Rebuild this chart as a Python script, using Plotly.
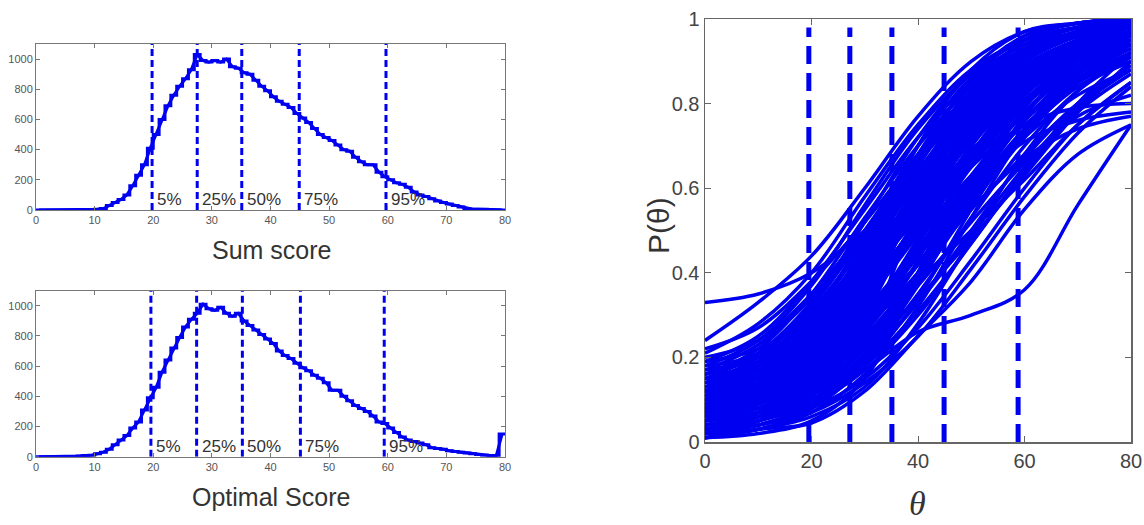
import plotly.graph_objects as go

# ---------------- data ----------------
BIN_EDGES = list(range(0, 81))
SUM_COUNTS = [0,0,0,0,0,0,0,0,0,0, 5,10,30,50,70,100,160,230,300,410,
              500,600,690,760,820,870,930,1030,990,980, 990,980,1000,950,940,910,900,860,820,790,
              750,720,700,680,640,610,580,540,500,480, 460,430,400,390,350,320,300,300,250,220,
              200,180,170,150,120,100,90,75,60,50, 40,30,20,10,5,5,5,3,2,0]
OPT_COUNTS = [0,0,0,0,0,0,2,5,8,10, 20,30,50,80,110,140,190,230,310,390,
              460,560,640,720,790,860,910,950,1010,980, 970,990,950,930,950,900,870,840,810,780,
              750,700,670,650,620,590,570,540,520,490, 440,440,400,370,340,320,300,270,230,220,
              190,160,130,110,100,90,80,60,55,50, 40,35,30,25,20,15,10,8,5,150]
SUM_PCT = [19.8, 27.5, 35.1, 44.9, 59.7]
OPT_PCT = [19.6, 27.4, 35.2, 45.1, 59.4]
THETA_PCT = [19.5, 27.2, 35.1, 44.9, 58.8]
PCT_LABELS = ["5%", "25%", "50%", "75%", "95%"]

THETA = [0, 10, 20, 30, 40, 50, 60, 70, 80]
ICC = [
    [0.24,0.33,0.44,0.60,0.77,0.90,0.97,0.99,1.00],
    [0.33,0.35,0.40,0.50,0.62,0.75,0.86,0.93,0.97],
    [0.22,0.27,0.38,0.52,0.68,0.82,0.92,0.97,0.99],
    [0.20,0.24,0.35,0.50,0.66,0.80,0.90,0.96,0.99],
    [0.19,0.22,0.30,0.45,0.62,0.78,0.89,0.95,0.98],
    [0.17,0.20,0.28,0.42,0.58,0.74,0.86,0.94,0.98],
    [0.15,0.19,0.27,0.40,0.56,0.72,0.85,0.93,0.97],
    [0.14,0.17,0.25,0.38,0.55,0.72,0.85,0.93,0.97],
    [0.12,0.16,0.24,0.36,0.52,0.68,0.82,0.91,0.96],
    [0.10,0.14,0.22,0.35,0.52,0.70,0.84,0.93,0.97],
    [0.09,0.12,0.20,0.33,0.50,0.68,0.83,0.92,0.96],
    [0.08,0.11,0.18,0.30,0.47,0.65,0.80,0.90,0.95],
    [0.07,0.10,0.17,0.29,0.45,0.62,0.78,0.89,0.95],
    [0.06,0.09,0.15,0.26,0.42,0.60,0.76,0.88,0.94],
    [0.05,0.08,0.14,0.25,0.40,0.58,0.74,0.86,0.93],
    [0.05,0.07,0.12,0.22,0.38,0.56,0.72,0.85,0.92],
    [0.04,0.06,0.11,0.20,0.35,0.53,0.70,0.83,0.91],
    [0.03,0.05,0.10,0.19,0.33,0.50,0.67,0.80,0.89],
    [0.03,0.05,0.09,0.17,0.30,0.47,0.64,0.78,0.87],
    [0.02,0.04,0.08,0.15,0.27,0.43,0.60,0.75,0.85],
    [0.01,0.03,0.045,0.12,0.25,0.38,0.55,0.68,0.75],
    [0.02,0.05,0.10,0.17,0.26,0.30,0.36,0.56,0.75],
    [0.08,0.11,0.17,0.27,0.40,0.55,0.67,0.74,0.77],
    [0.10,0.13,0.20,0.31,0.45,0.60,0.71,0.76,0.78],
    [0.12,0.15,0.22,0.34,0.50,0.65,0.75,0.79,0.80],
    [0.05,0.08,0.14,0.24,0.37,0.52,0.66,0.77,0.82],
    [0.06,0.09,0.15,0.25,0.38,0.50,0.62,0.75,0.85],
    [0.01,0.02,0.05,0.15,0.40,0.70,0.90,0.97,0.99],
    [0.02,0.03,0.08,0.25,0.55,0.82,0.95,0.99,1.00],
    [0.05,0.07,0.12,0.30,0.60,0.85,0.96,0.99,1.00],
    [0.10,0.12,0.20,0.40,0.65,0.86,0.96,0.99,1.00],
    [0.15,0.17,0.25,0.45,0.70,0.88,0.97,0.99,1.00],
    [0.18,0.21,0.33,0.52,0.72,0.87,0.95,0.98,0.99],
    [0.13,0.17,0.28,0.46,0.66,0.83,0.93,0.98,0.99],
    [0.11,0.14,0.23,0.39,0.60,0.79,0.91,0.97,0.99],
    [0.07,0.10,0.19,0.35,0.57,0.77,0.90,0.96,0.99],
    [0.04,0.07,0.14,0.28,0.48,0.70,0.86,0.95,0.98],
    [0.03,0.05,0.11,0.23,0.43,0.66,0.84,0.94,0.98],
    [0.02,0.04,0.09,0.20,0.37,0.58,0.77,0.90,0.96],
    [0.06,0.08,0.13,0.22,0.34,0.48,0.63,0.78,0.90],
    [0.09,0.12,0.18,0.28,0.42,0.58,0.73,0.84,0.90],
    [0.04,0.06,0.10,0.18,0.31,0.47,0.64,0.80,0.92],
    [0.12,0.16,0.26,0.42,0.60,0.76,0.87,0.93,0.95],
    [0.16,0.21,0.31,0.47,0.63,0.77,0.87,0.93,0.96],
    [0.08,0.12,0.21,0.37,0.56,0.74,0.87,0.95,0.98],
    [0.05,0.09,0.17,0.32,0.52,0.72,0.87,0.95,0.98],
    [0.03,0.06,0.13,0.27,0.47,0.68,0.84,0.93,0.97],
    [0.10,0.13,0.19,0.29,0.42,0.55,0.68,0.80,0.88],
    [0.13,0.18,0.30,0.48,0.67,0.82,0.92,0.97,0.99],
    [0.11,0.16,0.27,0.44,0.63,0.80,0.91,0.96,0.99],
    [0.09,0.13,0.24,0.41,0.61,0.79,0.91,0.97,0.99],
    [0.07,0.11,0.21,0.38,0.58,0.77,0.90,0.96,0.99],
    [0.06,0.10,0.19,0.34,0.53,0.72,0.86,0.94,0.98],
    [0.14,0.19,0.29,0.43,0.59,0.73,0.84,0.91,0.95],
    [0.17,0.23,0.34,0.49,0.64,0.78,0.88,0.94,0.97],
    [0.11,0.15,0.24,0.38,0.55,0.71,0.84,0.92,0.96],
    [0.08,0.12,0.20,0.33,0.49,0.66,0.80,0.90,0.95],
    [0.04,0.07,0.13,0.24,0.40,0.59,0.76,0.88,0.95],
    [0.02,0.05,0.11,0.22,0.40,0.62,0.80,0.92,0.97],
    [0.19,0.25,0.38,0.55,0.72,0.85,0.93,0.97,0.99],
    [0.15,0.21,0.33,0.50,0.68,0.83,0.92,0.97,0.99],
    [0.12,0.18,0.30,0.47,0.66,0.82,0.92,0.97,0.99],
    [0.10,0.15,0.26,0.43,0.62,0.79,0.90,0.96,0.98],
    [0.07,0.12,0.22,0.38,0.58,0.76,0.88,0.95,0.98],
    [0.05,0.09,0.18,0.33,0.53,0.72,0.86,0.94,0.98],
    [0.09,0.14,0.25,0.41,0.60,0.77,0.89,0.95,0.98],
    [0.13,0.17,0.26,0.40,0.57,0.73,0.85,0.92,0.96],
    [0.06,0.11,0.20,0.36,0.56,0.75,0.88,0.95,0.98],
    [0.03,0.06,0.12,0.23,0.39,0.57,0.73,0.85,0.92],
    [0.05,0.08,0.15,0.28,0.45,0.63,0.78,0.88,0.94],
    [0.08,0.13,0.23,0.36,0.52,0.68,0.81,0.90,0.94],
    [0.16,0.20,0.29,0.41,0.55,0.69,0.80,0.88,0.93],
    [0.14,0.20,0.32,0.49,0.66,0.81,0.91,0.96,0.98],
    [0.12,0.17,0.28,0.45,0.64,0.80,0.91,0.96,0.98],
    [0.10,0.14,0.24,0.40,0.59,0.76,0.88,0.95,0.98],
    [0.08,0.12,0.21,0.36,0.55,0.73,0.86,0.94,0.97],
    [0.07,0.10,0.18,0.32,0.51,0.70,0.85,0.93,0.97],
    [0.06,0.08,0.16,0.29,0.48,0.68,0.83,0.92,0.97],
    [0.04,0.06,0.13,0.26,0.45,0.66,0.82,0.92,0.96],
    [0.03,0.05,0.10,0.21,0.38,0.60,0.79,0.91,0.96],
    [0.02,0.04,0.08,0.18,0.34,0.55,0.74,0.87,0.94],
    [0.01,0.03,0.07,0.16,0.32,0.53,0.73,0.87,0.94],
    [0.01,0.03,0.06,0.13,0.28,0.48,0.68,0.83,0.92],
    [0.02,0.04,0.07,0.14,0.25,0.41,0.58,0.73,0.84],
    [0.04,0.07,0.12,0.20,0.33,0.49,0.65,0.79,0.88],
    [0.06,0.10,0.16,0.27,0.42,0.59,0.74,0.85,0.92],
    [0.09,0.13,0.22,0.35,0.51,0.67,0.80,0.89,0.94],
    [0.11,0.16,0.25,0.39,0.56,0.72,0.84,0.92,0.96],
    [0.13,0.19,0.31,0.47,0.64,0.79,0.89,0.95,0.98],
    [0.16,0.22,0.35,0.53,0.70,0.84,0.93,0.97,0.99],
    [0.18,0.24,0.37,0.56,0.74,0.87,0.95,0.98,0.99],
    [0.21,0.28,0.40,0.58,0.75,0.88,0.95,0.98,1.00],
    [0.10,0.16,0.29,0.49,0.70,0.86,0.94,0.98,0.99],
    [0.07,0.13,0.26,0.46,0.68,0.85,0.94,0.98,0.99],
    [0.05,0.10,0.22,0.42,0.65,0.83,0.93,0.98,0.99],
    [0.03,0.07,0.17,0.36,0.60,0.80,0.92,0.97,0.99],
    [0.02,0.05,0.13,0.30,0.54,0.76,0.90,0.96,0.99],
    [0.08,0.11,0.19,0.31,0.46,0.62,0.76,0.86,0.92],
    [0.12,0.15,0.23,0.35,0.49,0.63,0.75,0.84,0.90],
    [0.05,0.09,0.16,0.28,0.44,0.61,0.76,0.87,0.93],
    [0.15,0.18,0.27,0.39,0.53,0.66,0.77,0.85,0.91],
    [0.09,0.12,0.19,0.30,0.44,0.59,0.72,0.82,0.88],
]

BLUE = "#0000f0"
FONT = "Liberation Sans, Arial"

W, H = 1144, 525

def dx(px):
    return px / W

def dy(px):
    return (H - px) / H

fig = go.Figure()

def add_hist(counts, pct, xa, ya):
    fig.add_trace(go.Scatter(x=BIN_EDGES, y=counts + [counts[-1]], mode="lines",
                             line=dict(color=BLUE, width=3, shape="hv"),
                             xaxis=xa, yaxis=ya, showlegend=False, hoverinfo="skip"))
    centers = [e + 0.5 for e in BIN_EDGES[:-1]]
    fig.add_trace(go.Scatter(x=centers, y=counts, mode="lines",
                             line=dict(color=BLUE, width=3),
                             xaxis=xa, yaxis=ya, showlegend=False, hoverinfo="skip"))
    for p, lab in zip(pct, PCT_LABELS):
        fig.add_trace(go.Scatter(x=[p, p], y=[0, 1100], mode="lines",
                                 line=dict(color=BLUE, width=3, dash="7px,4px"),
                                 xaxis=xa, yaxis=ya, showlegend=False, hoverinfo="skip"))
        fig.add_annotation(x=p, y=0, xref=xa, yref=ya, text=lab, showarrow=False,
                           xanchor="left", yanchor="bottom", xshift=3, yshift=-1,
                           font=dict(family=FONT, size=17, color="#333"))

add_hist(SUM_COUNTS, SUM_PCT, "x", "y")
add_hist(OPT_COUNTS, OPT_PCT, "x2", "y2")

for curve in ICC:
    fig.add_trace(go.Scatter(x=THETA, y=curve, mode="lines",
                             line=dict(color=BLUE, width=3.5, shape="spline", smoothing=1.0),
                             xaxis="x3", yaxis="y3", showlegend=False, hoverinfo="skip"))
for p in THETA_PCT:
    fig.add_trace(go.Scatter(x=[p, p], y=[0, 0.98], mode="lines",
                             line=dict(color=BLUE, width=5, dash="18px,9px"),
                             xaxis="x3", yaxis="y3", showlegend=False, hoverinfo="skip"))

small_ax = dict(showline=True, mirror="allticks", linecolor="#777", linewidth=1,
                ticks="inside", ticklen=4, tickcolor="#777", showgrid=False, zeroline=False,
                automargin=False,
                tickfont=dict(family=FONT, size=11, color="#555"))
big_ax = dict(showline=True, mirror="allticks", linecolor="#666", linewidth=1.5,
              ticks="inside", ticklen=6, tickcolor="#666", showgrid=False, zeroline=False,
              automargin=False,
              tickfont=dict(family=FONT, size=20, color="#444"))

fig.update_layout(
    width=W, height=H, margin=dict(l=0, r=0, t=0, b=0, autoexpand=False),
    paper_bgcolor="white", plot_bgcolor="white", hovermode=False,
    xaxis=dict(domain=[dx(36), dx(505)], range=[0, 80], tickvals=list(range(0, 81, 10)), anchor="y", **small_ax),
    yaxis=dict(domain=[dy(210), dy(44)], range=[0, 1100], tickvals=list(range(0, 1001, 200)), anchor="x", **small_ax),
    xaxis2=dict(domain=[dx(36), dx(505)], range=[0, 80], tickvals=list(range(0, 81, 10)), anchor="y2", **small_ax),
    yaxis2=dict(domain=[dy(456.7), dy(290.7)], range=[0, 1100], tickvals=list(range(0, 1001, 200)), anchor="x2", **small_ax),
    xaxis3=dict(domain=[dx(705), dx(1131)], range=[0, 80], tickvals=[0, 20, 40, 60, 80], anchor="y3", **big_ax),
    yaxis3=dict(domain=[dy(442), dy(19)], range=[0, 1], tickvals=[0, 0.2, 0.4, 0.6, 0.8, 1],
                ticktext=["0", "0.2", "0.4", "0.6", "0.8", "1"], anchor="x3", **big_ax),
)

def label(xpx, ypx, text, size, family=FONT, angle=0):
    fig.add_annotation(x=dx(xpx), y=dy(ypx), xref="paper", yref="paper", text=text,
                       showarrow=False, xanchor="center", yanchor="middle", textangle=angle,
                       font=dict(family=family, size=size, color="#333"))

label(271, 250, "Sum score", 25)
label(271, 497, "Optimal Score", 25)
label(658, 226, "P(θ)", 30, angle=-90)
label(918, 503, "<i>θ</i>", 34, family="Liberation Serif, Times New Roman")

fig.write_html(
    "out.html",
    config={"displayModeBar": False, "staticPlot": True},
    post_script="document.body.style.margin='0';document.body.style.overflow='hidden';"
                "document.documentElement.style.overflow='hidden';",
)
